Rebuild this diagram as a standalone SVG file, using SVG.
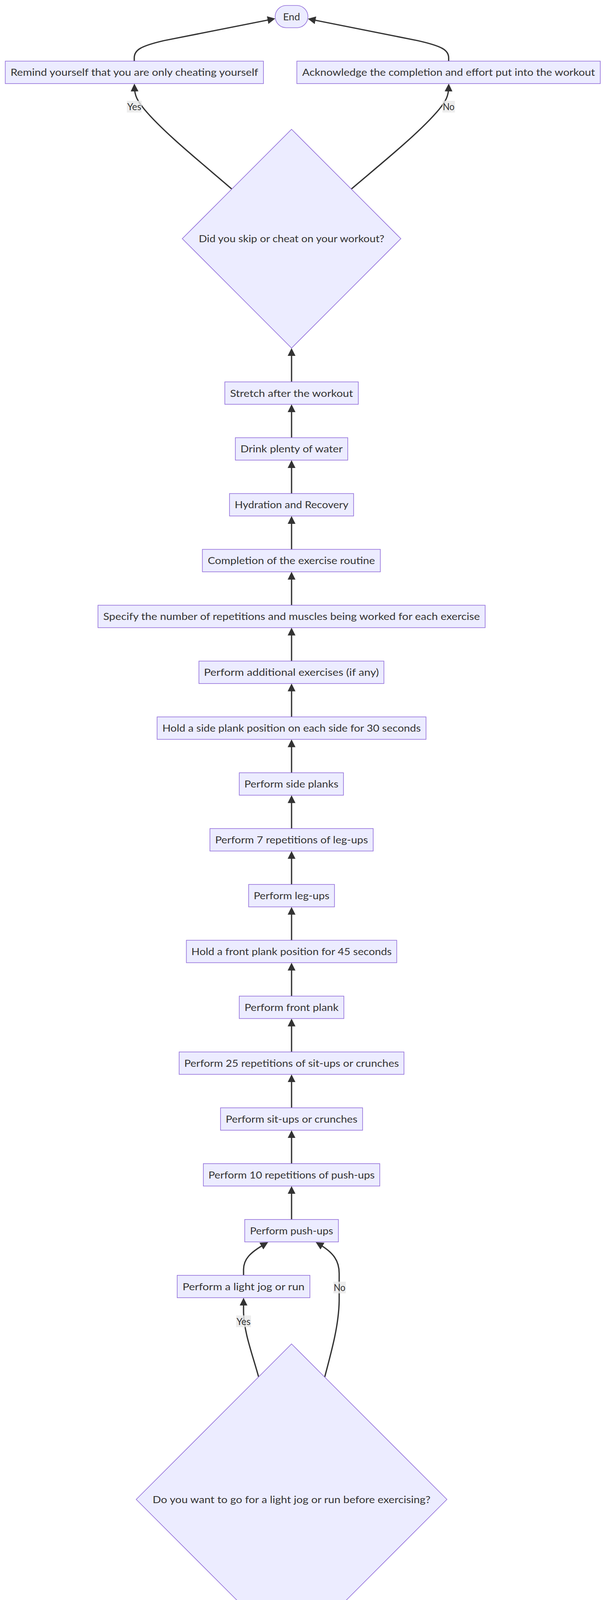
<svg xmlns="http://www.w3.org/2000/svg" width="1568" height="7240" viewBox="0 0 1568 7240">
<style>
.n rect,.n polygon{fill:#ECECFF;stroke:#9370DB;stroke-width:1.6}
text{font-family:Lato,"Liberation Sans",sans-serif;font-size:25.5px;fill:#333333;text-anchor:middle}
.e path{fill:none;stroke:#333333;stroke-width:3.3;marker-end:url(#arr)}
.l rect{fill:#e8e8e8;fill-opacity:0.8}
</style>
<defs>
<marker id="arr" viewBox="0 0 10 10" refX="5" refY="5" markerUnits="userSpaceOnUse" markerWidth="20" markerHeight="20" orient="auto">
<path d="M0,0 L10,5 L0,10 z" fill="#333333"/>
</marker>
</defs>
<rect width="1568" height="7240" fill="#ffffff"/>
<g id="edges" class="e">
<path d="M344,156.5 L344,148 C344,128 360,118 420,104 L695.5,49.5"/>
<path d="M1149.5,156.5 L1149.5,148 C1149.5,128 1132,118 1070,104 L798.5,50"/>
<path d="M594,484 C520,420 420,340 370,280 C352,258 345,245 344.5,224"/>
<path d="M900,484 C975,420 1075,340 1125,280 C1143,258 1149,245 1149.5,224"/>
<path d="M747,977.6 L747,901"/>
<path d="M747,1120.5 L747,1045"/>
<path d="M747,1263.5 L747,1187.9"/>
<path d="M747,1406.4 L747,1330.9"/>
<path d="M747,1549.4 L747,1473.8"/>
<path d="M747,1692.4 L747,1616.8"/>
<path d="M747,1835.3 L747,1759.8"/>
<path d="M747,1978.3 L747,1902.7"/>
<path d="M747,2121.2 L747,2045.7"/>
<path d="M747,2264.2 L747,2188.6"/>
<path d="M747,2407.1 L747,2331.6"/>
<path d="M747,2550.1 L747,2474.5"/>
<path d="M747,2693 L747,2617.5"/>
<path d="M747,2836 L747,2760.4"/>
<path d="M747,2978.9 L747,2903.4"/>
<path d="M747,3121.9 L747,3046.3"/>
<path d="M624,3264.8 L624,3250 C624,3224 640,3207 678.3,3185"/>
<path d="M662.6,3525 C646,3465 625,3410 624,3360 L624,3332.2"/>
<path d="M832,3525 C852,3450 868,3390 869,3330 L869,3260 C869,3228 855,3207 817.6,3185.1"/>
<path d="M747,4321 L747,4246.5"/>
<path d="M660,4726 C640,4660 611,4600 611,4530 L611,4445 C611,4418 625,4402 671.8,4382.8"/>
<path d="M883.5,4465 L883.5,4445 C883.5,4420 868,4402 822.2,4382.8"/>
<path d="M834,4727 C855,4660 878,4600 882,4560 L883.5,4532"/>
<path d="M686.5,5635 C660,5580 635,5520 635,5460 L635,5390 C635,5330 652,5285 667,5249.5"/>
<path d="M858.7,5400 L858.7,5385 C858.7,5330 840,5285 827.5,5249.5"/>
<path d="M808,5635 C830,5585 852,5540 857,5500 L858.7,5467"/>
<path d="M668.6,6312 C645,6240 624,6170 624,6110 L624,6060 C624,6000 645,5960 671.5,5917.5"/>
<path d="M870.4,6059 L870.4,6045 C870.4,5990 840,5950 821.5,5917"/>
<path d="M825.5,6312 C845,6250 865,6190 868,6150 L870.4,6126.5"/>
<path d="M747,6950 L747,6875.2"/>
<path d="M747,7092.3 L747,7017.4"/>
</g>
<g id="edge-labels" class="l">
<rect x="325" y="258" width="38" height="30"/><text x="344" y="282.2" textLength="36" lengthAdjust="spacingAndGlyphs">Yes</text>
<rect x="1133.5" y="258" width="32" height="30"/><text x="1149.5" y="282.2" textLength="30" lengthAdjust="spacingAndGlyphs">No</text>
<rect x="605" y="3367.5" width="38" height="30"/><text x="624" y="3391.7" textLength="36" lengthAdjust="spacingAndGlyphs">Yes</text>
<rect x="854" y="3281" width="32" height="30"/><text x="870" y="3305.2" textLength="30" lengthAdjust="spacingAndGlyphs">No</text>
<rect x="591" y="4479" width="38" height="30"/><text x="610" y="4503.2" textLength="36" lengthAdjust="spacingAndGlyphs">Yes</text>
<rect x="867.5" y="4566.5" width="32" height="30"/><text x="883.5" y="4590.7" textLength="30" lengthAdjust="spacingAndGlyphs">No</text>
<rect x="616" y="5413.5" width="38" height="30"/><text x="635" y="5437.7" textLength="36" lengthAdjust="spacingAndGlyphs">Yes</text>
<rect x="842.7" y="5500.5" width="32" height="30"/><text x="858.7" y="5524.7" textLength="30" lengthAdjust="spacingAndGlyphs">No</text>
<rect x="605" y="6072" width="38" height="30"/><text x="624" y="6096.2" textLength="36" lengthAdjust="spacingAndGlyphs">Yes</text>
<rect x="854.4" y="6160.5" width="32" height="30"/><text x="870.4" y="6184.7" textLength="30" lengthAdjust="spacingAndGlyphs">No</text>
</g>
<g id="end" class="n"><rect x="705" y="14" width="84" height="57" rx="28.5" ry="28.5"/><text x="747" y="51.7" textLength="43.5" lengthAdjust="spacingAndGlyphs">End</text></g>
<g id="remind" class="n"><rect x="13.5" y="156.5" width="661.5" height="57.5"/><text x="344.25" y="194.45" textLength="634.5" lengthAdjust="spacingAndGlyphs">Remind yourself that you are only cheating yourself</text></g>
<g id="acknowledge" class="n"><rect x="760.5" y="156.5" width="777.5" height="57.5"/><text x="1149.25" y="194.45" textLength="750" lengthAdjust="spacingAndGlyphs">Acknowledge the completion and effort put into the workout</text></g>
<g id="skip" class="n"><polygon points="747,331 1027,611 747,891 467,611"/><text x="747" y="620.2" textLength="475.5" lengthAdjust="spacingAndGlyphs">Did you skip or cheat on your workout?</text></g>
<g id="stretch" class="n"><rect x="576" y="977.6" width="342" height="57.4"/><text x="747" y="1015.5" textLength="315" lengthAdjust="spacingAndGlyphs">Stretch after the workout</text></g>
<g id="drink" class="n"><rect x="603" y="1120.5" width="288" height="57.4"/><text x="747" y="1158.4" textLength="262" lengthAdjust="spacingAndGlyphs">Drink plenty of water</text></g>
<g id="hydration" class="n"><rect x="588" y="1263.5" width="318" height="57.4"/><text x="747" y="1301.4" textLength="291.5" lengthAdjust="spacingAndGlyphs">Hydration and Recovery</text></g>
<g id="completion" class="n"><rect x="518.5" y="1406.4" width="456" height="57.4"/><text x="746.5" y="1444.3" textLength="428.6" lengthAdjust="spacingAndGlyphs">Completion of the exercise routine</text></g>
<g id="specify" class="n"><rect x="251" y="1549.4" width="992" height="57.4"/><text x="747" y="1587.3" textLength="965" lengthAdjust="spacingAndGlyphs">Specify the number of repetitions and muscles being worked for each exercise</text></g>
<g id="additional" class="n"><rect x="509.6" y="1692.4" width="474" height="57.4"/><text x="746.6" y="1730.3" textLength="448.3" lengthAdjust="spacingAndGlyphs">Perform additional exercises (if any)</text></g>
<g id="hold-side" class="n"><rect x="402.5" y="1835.3" width="689" height="57.4"/><text x="747" y="1873.2" textLength="662" lengthAdjust="spacingAndGlyphs">Hold a side plank position on each side for 30 seconds</text></g>
<g id="side-planks" class="n"><rect x="613" y="1978.3" width="267" height="57.4"/><text x="746.5" y="2016.2" textLength="241" lengthAdjust="spacingAndGlyphs">Perform side planks</text></g>
<g id="leg-reps" class="n"><rect x="537.8" y="2121.2" width="418.4" height="57.4"/><text x="747" y="2159.1" textLength="391.6" lengthAdjust="spacingAndGlyphs">Perform 7 repetitions of leg-ups</text></g>
<g id="leg-ups" class="n"><rect x="637" y="2264.2" width="220" height="57.4"/><text x="747" y="2302.1" textLength="194" lengthAdjust="spacingAndGlyphs">Perform leg-ups</text></g>
<g id="hold-front" class="n"><rect x="477.5" y="2407.1" width="539" height="57.4"/><text x="747" y="2445" textLength="513.4" lengthAdjust="spacingAndGlyphs">Hold a front plank position for 45 seconds</text></g>
<g id="front-plank" class="n"><rect x="613" y="2550.1" width="268" height="57.4"/><text x="747" y="2588" textLength="241" lengthAdjust="spacingAndGlyphs">Perform front plank</text></g>
<g id="situp-reps" class="n"><rect x="459" y="2693" width="576" height="57.4"/><text x="747" y="2730.9" textLength="550" lengthAdjust="spacingAndGlyphs">Perform 25 repetitions of sit-ups or crunches</text></g>
<g id="situps" class="n"><rect x="565" y="2836" width="364" height="57.4"/><text x="747" y="2873.9" textLength="337.5" lengthAdjust="spacingAndGlyphs">Perform sit-ups or crunches</text></g>
<g id="pushup-reps" class="n"><rect x="521" y="2978.9" width="452" height="57.4"/><text x="747" y="3016.8" textLength="426" lengthAdjust="spacingAndGlyphs">Perform 10 repetitions of push-ups</text></g>
<g id="pushups" class="n"><rect x="627" y="3121.9" width="240" height="57.4"/><text x="747" y="3159.8" textLength="213" lengthAdjust="spacingAndGlyphs">Perform push-ups</text></g>
<g id="jog" class="n"><rect x="454" y="3264.8" width="340" height="57.4"/><text x="624" y="3302.7" textLength="312.5" lengthAdjust="spacingAndGlyphs">Perform a light jog or run</text></g>
<g id="jog-question" class="n"><polygon points="747,3440.5 1145,3838.5 747,4236.5 349,3838.5"/><text x="747" y="3847.7" textLength="712" lengthAdjust="spacingAndGlyphs">Do you want to go for a light jog or run before exercising?</text></g>
<g id="warmup" class="n"><rect x="621" y="4321" width="252" height="57.5"/><text x="747" y="4358.95" textLength="225.8" lengthAdjust="spacingAndGlyphs">Optional Warm-Up</text></g>
<g id="motivate" class="n"><rect x="689.3" y="4465" width="388" height="57.4"/><text x="883.3" y="4502.9" textLength="362" lengthAdjust="spacingAndGlyphs">Motivate yourself to be ready</text></g>
<g id="committed" class="n"><polygon points="747,4640.6 1084,4977.6 747,5314.6 410,4977.6"/><text x="747" y="4986.8" textLength="591" lengthAdjust="spacingAndGlyphs">Are you committed and determined to workout?</text></g>
<g id="get-water" class="n"><rect x="714.5" y="5400" width="289" height="57.4"/><text x="859" y="5437.9" textLength="262" lengthAdjust="spacingAndGlyphs">Get a bottle of water</text></g>
<g id="water" class="n"><polygon points="747,5574.5 946.5,5774 747,5973.5 547.5,5774"/><text x="747" y="5783.2" textLength="315.7" lengthAdjust="spacingAndGlyphs">Do you have water ready?</text></g>
<g id="put-attire" class="n"><rect x="702.4" y="6059" width="336" height="57.4"/><text x="870.4" y="6096.9" textLength="309.3" lengthAdjust="spacingAndGlyphs">Put on appropriate attire</text></g>
<g id="attire" class="n"><polygon points="747,6234 1062.6,6549.6 747,6865.2 431.4,6549.6"/><text x="747" y="6558.8" textLength="547" lengthAdjust="spacingAndGlyphs">Are you wearing appropriate workout attire?</text></g>
<g id="evaluate" class="n"><rect x="543" y="6950" width="408" height="57.4"/><text x="747" y="6987.9" textLength="379.3" lengthAdjust="spacingAndGlyphs">Evaluate readiness for workout</text></g>
<g id="start" class="n"><rect x="697" y="7092.3" width="100" height="57.7" rx="28.85" ry="28.85"/><text x="747" y="7130.35" textLength="59" lengthAdjust="spacingAndGlyphs">Start</text></g>
</svg>
